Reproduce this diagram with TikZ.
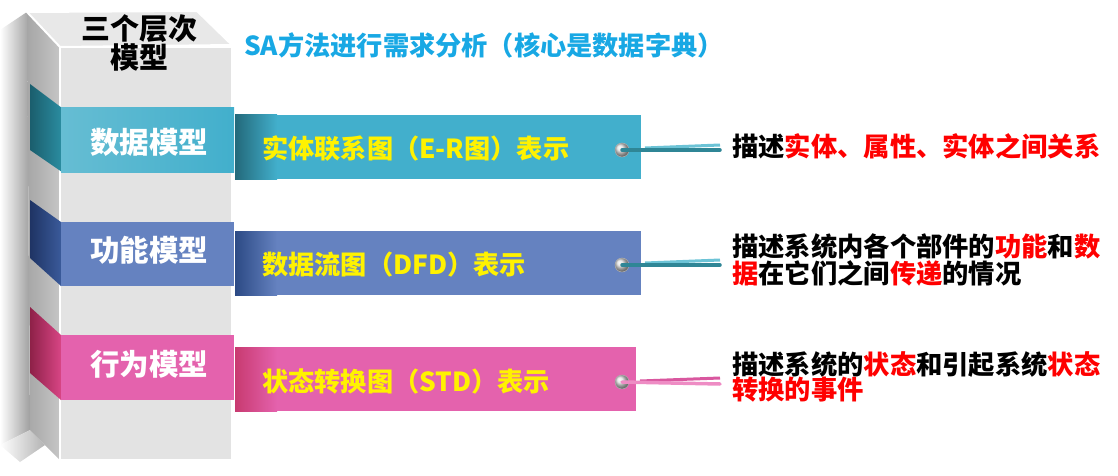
\documentclass[tikz,border=0pt]{standalone}
\usepackage{fontspec}
\setmainfont{Noto Sans CJK SC}
\definecolor{tealbase}{HTML}{42AFCC}
\definecolor{teallight}{HTML}{66BDD3}
\definecolor{tealdark}{HTML}{23697A}
\definecolor{tealfoldA}{HTML}{1B5E6D}
\definecolor{tealfoldB}{HTML}{2B8DA1}
\definecolor{bluebase}{HTML}{6582C0}
\definecolor{bluedark}{HTML}{2C4A85}
\definecolor{bluefoldA}{HTML}{1F3464}
\definecolor{bluefoldB}{HTML}{3A5A9A}
\definecolor{pinkbase}{HTML}{E462AD}
\definecolor{pinkdark}{HTML}{C83A70}
\definecolor{pinkfoldA}{HTML}{8E2148}
\definecolor{pinkfoldB}{HTML}{D84585}
\definecolor{titleblue}{HTML}{18A8E4}
\definecolor{stringdark}{HTML}{2F8696}
\definecolor{stringlight}{HTML}{6CC3D6}
\definecolor{pinkstringdark}{HTML}{D9579F}
\definecolor{pinkstringlight}{HTML}{EE8CC4}
\newcommand{\rtxt}[1]{\textcolor{red}{#1}}
\begin{document}
\begin{tikzpicture}[x=1pt,y=-1pt,
  pillarlabel/.style={text=white,font=\fontsize{29.5}{30}\selectfont\bfseries,inner sep=0pt},
  rectbox/.style={anchor=north west,minimum width=406pt,minimum height=64pt,inner sep=0pt,draw=none},
  rectlabel/.style={anchor=west,text=yellow,font=\fontsize{26.2}{28}\selectfont\bfseries,inner sep=0pt},
  desc/.style={anchor=west,align=left,text=black,font=\fontsize{26.3}{25.5}\selectfont\bfseries,inner sep=0pt},
  pinball/.style={circle,minimum size=14pt,inner sep=0pt,shading=ball,ball color=gray!25,draw=gray!60,line width=0.5pt},
  strdark/.style={line width=3.5pt,line cap=round},
  strlight/.style={line width=3pt}
]
\useasboundingbox (0,0) rectangle (1118,476);
% shadow of the pillar
\shade[left color=white,right color=gray!75] (0,30) -- (27,12) -- (30,430) -- (0,445) -- cycle;
\shade[left color=white,right color=gray!60] (0,445) -- (30,430) -- (45,445) -- (20,462) -- cycle;
% side face
\shade[left color=gray!70,right color=gray!45] (27,12) -- (60,47) -- (60,460) -- (30,430) -- cycle;
% top face
\fill[gray!18,draw=white,line width=2pt] (27,12) -- (197,11) -- (232,45) -- (60,47) -- cycle;
% front face
\fill[gray!22,draw=white,line width=2pt] (60,47) rectangle (232,460);
% bands on the pillar
\shade[left color=tealfoldA,right color=tealfoldB] (30,84) -- (62,108) -- (62,172) -- (30,150) -- cycle;
\shade[left color=teallight,right color=tealbase] (61,108) rectangle (234,172);
\shade[left color=bluefoldA,right color=bluefoldB] (30,200) -- (61,222) -- (61,286) -- (30,258) -- cycle;
\fill[bluebase] (61,222) rectangle (234,286);
\shade[left color=pinkfoldA,right color=pinkfoldB] (30,307) -- (61,335) -- (61,400) -- (30,373) -- cycle;
\fill[pinkbase] (61,335) rectangle (234,400);
% pillar labels
\node[font=\fontsize{29}{26}\selectfont\bfseries,align=center,inner sep=0pt] (ttl) at (139,43) {三个层次\\模型};
\node[pillarlabel] (m1) at (149,142) {数据模型};
\node[pillarlabel] (m2) at (149,250) {功能模型};
\node[pillarlabel] (m3) at (149,364) {行为模型};
% main title
\node[anchor=west,text=titleblue,font=\fontsize{26.2}{28}\selectfont\bfseries,inner sep=0pt] (title) at (244,45) {SA方法进行需求分析（核心是数据字典）};
% right boxes
\node[rectbox,fill=tealbase] (r1) at (235,115) {};
\shade[left color=tealdark,right color=tealbase] (r1.north west) rectangle ++(42,64);
\node[rectbox,fill=bluebase] (r2) at (235,231) {};
\shade[left color=bluedark,right color=bluebase] (r2.north west) rectangle ++(42,64);
\node[rectbox,fill=pinkbase,minimum width=401pt] (r3) at (235,347) {};
\shade[left color=pinkdark,right color=pinkbase] (r3.north west) rectangle ++(42,64);
\node[rectlabel] (t1) at (262,149) {实体联系图（E-R图）表示};
\node[rectlabel] (t2) at (262,265) {数据流图（DFD）表示};
\node[rectlabel] (t3) at (262,381) {状态转换图（STD）表示};
% pins
\node[pinball] (p1) at (622,150) {};
\node[pinball] (p2) at (622,265) {};
\node[pinball] (p3) at (622,382) {};
% string ends
\coordinate (e1a) at (720,150);
\coordinate (e1b) at (720,145);
\coordinate (s1b) at (645,148);
\coordinate (e2a) at (720,265);
\coordinate (e2b) at (720,260);
\coordinate (s2b) at (645,263);
\coordinate (e3a) at (720,384);
\coordinate (e3b) at (720,378);
\coordinate (s3b) at (640,381);
\draw[strlight,stringlight] (s1b) -- (e1b);
\draw[strdark,stringdark] (p1.center) -- (e1a);
\draw[strlight,stringlight] (s2b) -- (e2b);
\draw[strdark,stringdark] (p2.center) -- (e2a);
\draw[strlight,pinkstringdark] (s3b) -- (e3b);
\draw[strdark,pinkstringlight] (p3.center) -- (e3a);
% descriptions
\node[desc] (d1) at (732,146) {描述\rtxt{实体、属性、实体之间关系}};
\node[desc] (d2) at (732,260) {描述系统内各个部件的\rtxt{功能}和\rtxt{数}\\\rtxt{据}在它们之间\rtxt{传递}的情况};
\node[desc] (d3) at (732,377) {描述系统的\rtxt{状态}和引起系统\rtxt{状态}\\\rtxt{转换的事件}};
\end{tikzpicture}
\end{document}
